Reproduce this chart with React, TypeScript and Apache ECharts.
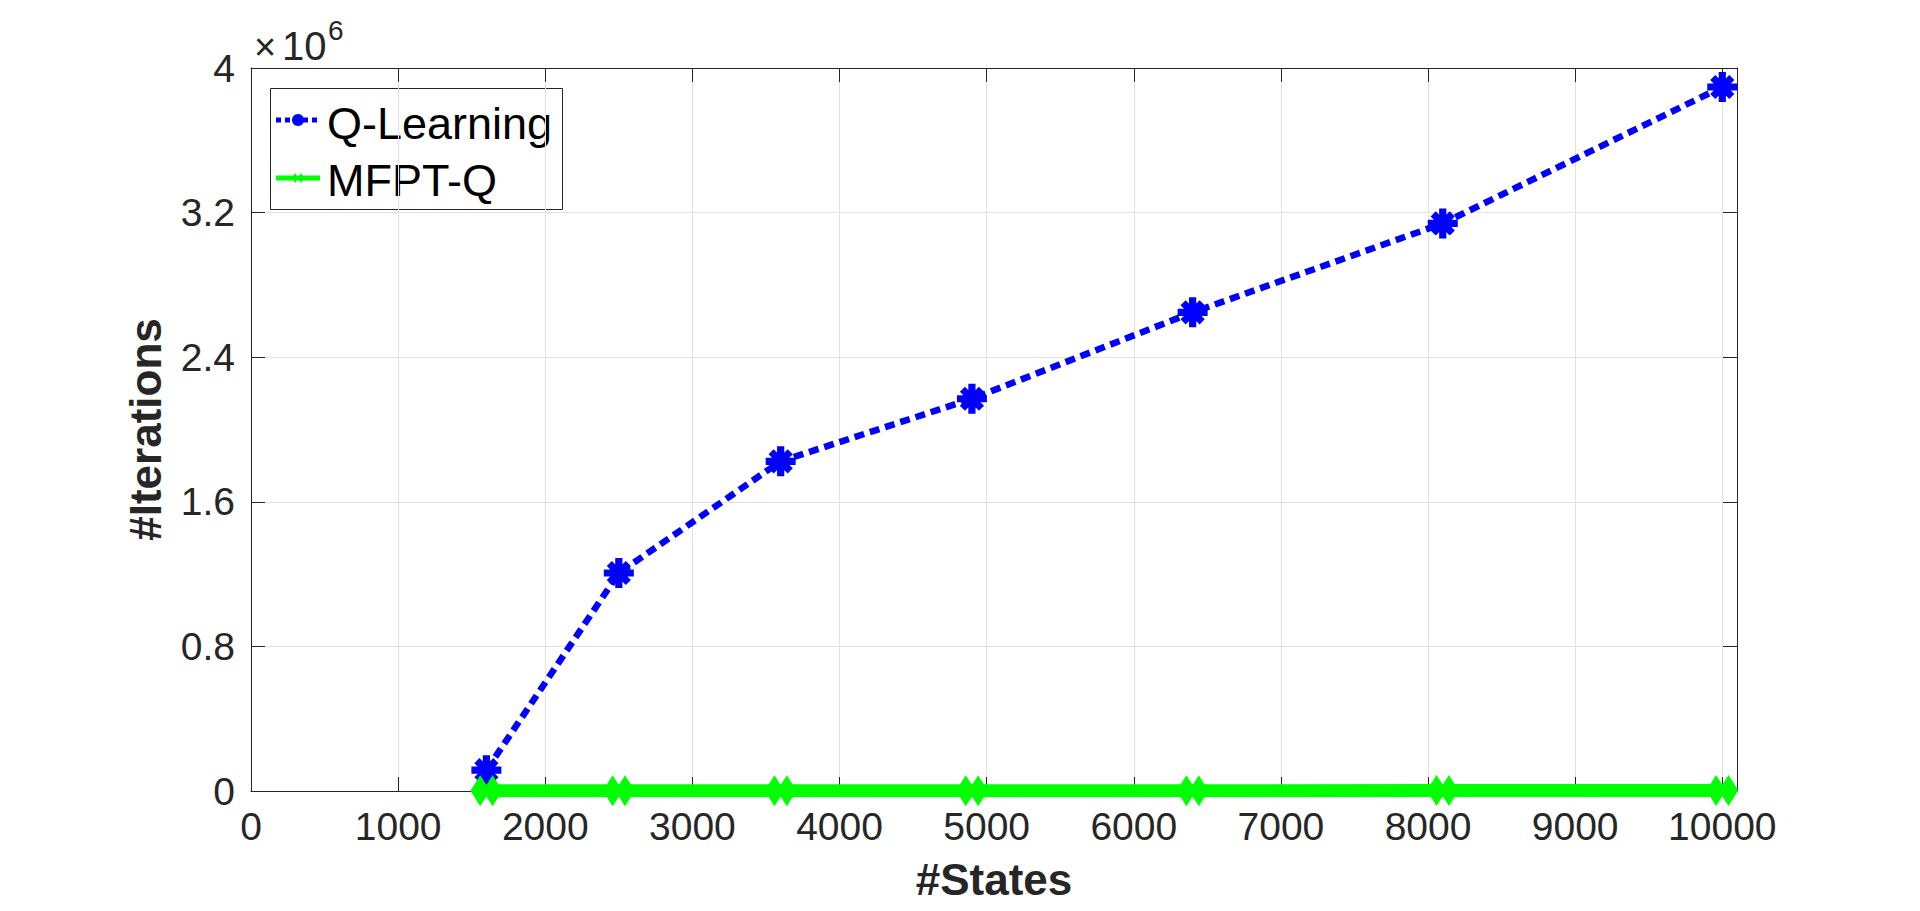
import React, { useEffect, useRef } from "react";
import * as echarts from "echarts";

// ---- data ----
const STATES = [1600, 2500, 3600, 4900, 6400, 8100, 10000];
const Q_LEARNING = [115000, 1206000, 1824000, 2170000, 2648000, 3140000, 3895000];
const MFPT_Q = [1200, 1400, 1600, 1800, 2000, 2200, 2400];
const SERIES_NAMES = ["Q-Learning", "MFPT-Q"];
const X_TITLE = "#States";
const Y_TITLE = "#Iterations";

const FONT = "'Liberation Sans', Arial, Helvetica, sans-serif";
const AX = "#262626";
const GRIDC = "#e2e2e2";

// asterisk symbol (union of 4 bars)
function asteriskPath(): string {
  const c = 100;
  const bars: string[] = [];
  const mk = (deg: number, r: number, t: number) => {
    const a = (deg * Math.PI) / 180;
    const co = Math.cos(a), si = Math.sin(a);
    const pts = [[-r, -t], [r, -t], [r, t], [-r, t]].map(([x, y]) => [
      (c + x * co - y * si).toFixed(2),
      (c + x * si + y * co).toFixed(2),
    ]);
    return "M" + pts.map((p) => p.join(" ")).join(" L") + " Z";
  };
  bars.push(mk(0, 100, 24));
  bars.push(mk(90, 100, 24));
  bars.push(mk(45, 90, 24));
  bars.push(mk(-45, 90, 24));
  return "path://" + bars.join(" ");
}
const DOUBLE_DIAMOND =
  "path://M0 15 L9.5 0 L19 15 L9.5 30 Z M12 15 L21.5 0 L31 15 L21.5 30 Z";

export default function App() {
  const ref = useRef<HTMLDivElement>(null);
  useEffect(() => {
    if (!ref.current) return;
    const chart = echarts.init(ref.current, undefined, { renderer: "svg" });
    const qData = STATES.map((x, i) => [x, Q_LEARNING[i]]);
    const mData = STATES.map((x, i) => [x, MFPT_Q[i]]);
    const baseAxisX = {
      type: "value" as const,
      min: 0,
      max: 10100,
      interval: 1000,
    };
    const baseAxisY = {
      type: "value" as const,
      min: 0,
      max: 4000000,
      interval: 800000,
    };
    chart.setOption({
      animation: false,
      backgroundColor: "#ffffff",
      textStyle: { fontFamily: FONT },
      grid: { left: 251, right: 183, top: 68, bottom: 120, containLabel: false },
      xAxis: [
        {
          ...baseAxisX,
          position: "bottom",
          name: X_TITLE,
          nameLocation: "middle",
          nameGap: 66,
          nameTextStyle: { fontSize: 44, fontWeight: "bold", color: AX, fontFamily: FONT },
          axisLine: { show: true, onZero: false, lineStyle: { color: AX, width: 1 } },
          axisTick: { show: true, inside: true, length: 14, lineStyle: { color: AX } },
          axisLabel: {
            fontSize: 39,
            color: AX,
            margin: 16,
            fontFamily: FONT,
            formatter: (v: number) => (v % 1000 === 0 ? String(v) : ""),
          },
          splitLine: { show: true, lineStyle: { color: GRIDC, width: 1 } },
        },
        {
          ...baseAxisX,
          position: "top",
          axisLine: { show: true, onZero: false, lineStyle: { color: AX, width: 1 } },
          axisTick: { show: true, inside: true, length: 14, lineStyle: { color: AX } },
          axisLabel: { show: false },
          splitLine: { show: false },
        },
      ],
      yAxis: [
        {
          ...baseAxisY,
          position: "left",
          name: Y_TITLE,
          nameLocation: "middle",
          nameGap: 84,
          nameRotate: 90,
          nameTextStyle: { fontSize: 44, fontWeight: "bold", color: AX, fontFamily: FONT },
          axisLine: { show: true, onZero: false, lineStyle: { color: AX, width: 1 } },
          axisTick: { show: true, inside: true, length: 14, lineStyle: { color: AX } },
          axisLabel: {
            fontSize: 39,
            color: AX,
            margin: 16,
            fontFamily: FONT,
            formatter: (v: number) => String(parseFloat((v / 1e6).toFixed(1))),
          },
          splitLine: { show: true, lineStyle: { color: GRIDC, width: 1 } },
        },
        {
          ...baseAxisY,
          position: "right",
          axisLine: { show: true, onZero: false, lineStyle: { color: AX, width: 1 } },
          axisTick: { show: true, inside: true, length: 14, lineStyle: { color: AX } },
          axisLabel: { show: false },
          splitLine: { show: false },
        },
      ],
      series: [
        {
          name: SERIES_NAMES[0],
          type: "line",
          xAxisIndex: 0,
          yAxisIndex: 0,
          data: qData,
          symbol: asteriskPath(),
          symbolSize: 30,
          itemStyle: { color: "#0000ff" },
          lineStyle: { color: "#0000ff", width: 6.5, type: [10, 6], cap: "butt" },
          z: 2,
        },
        {
          name: SERIES_NAMES[1],
          type: "line",
          xAxisIndex: 0,
          yAxisIndex: 0,
          data: mData,
          symbol: DOUBLE_DIAMOND,
          symbolSize: [32, 31],
          itemStyle: { color: "#00ff00" },
          lineStyle: { color: "#00ff00", width: 13 },
          z: 3,
        },
      ],
      graphic: [
        {
          type: "text",
          x: 265,
          y: 47,
          style: { text: "×", font: `38px ${FONT}`, fill: AX, align: "center", verticalAlign: "middle" },
        },
        {
          type: "text",
          x: 282,
          y: 46,
          style: { text: "10", font: `40px ${FONT}`, fill: AX, align: "left", verticalAlign: "middle" },
        },
        {
          type: "text",
          x: 328,
          y: 30,
          style: { text: "6", font: `28px ${FONT}`, fill: AX, align: "left", verticalAlign: "middle" },
        },
        {
          type: "group",
          z: 100,
          children: [
            {
              type: "rect",
              shape: { x: 270.5, y: 88.5, width: 292, height: 121 },
              style: { fill: "#ffffff", stroke: AX, lineWidth: 1 },
            },
            {
              type: "line",
              shape: { x1: 276, y1: 120, x2: 320, y2: 120 },
              style: { stroke: "#0000ff", lineWidth: 5, lineDash: [5, 4] },
            },
            {
              type: "circle",
              shape: { cx: 298, cy: 120, r: 6 },
              style: { fill: "#0000ff" },
            },
            {
              type: "text",
              x: 327,
              y: 123,
              style: { text: SERIES_NAMES[0], font: `45px ${FONT}`, fill: "#000000", verticalAlign: "middle" },
            },
            {
              type: "line",
              shape: { x1: 276, y1: 178, x2: 320, y2: 178 },
              style: { stroke: "#00ff00", lineWidth: 5 },
            },
            {
              type: "polygon",
              shape: { points: [[292, 178], [295, 173], [298, 178], [295, 183]] },
              style: { fill: "#00ff00" },
            },
            {
              type: "polygon",
              shape: { points: [[298, 178], [301, 173], [304, 178], [301, 183]] },
              style: { fill: "#00ff00" },
            },
            {
              type: "text",
              x: 327,
              y: 180,
              style: { text: SERIES_NAMES[1], font: `45px ${FONT}`, fill: "#000000", verticalAlign: "middle" },
            },
          ],
        },
      ],
    });
    return () => chart.dispose();
  }, []);
  return (
    <div
      ref={ref}
      style={{ position: "absolute", left: 0, top: 0, width: 1920, height: 911 }}
    />
  );
}
